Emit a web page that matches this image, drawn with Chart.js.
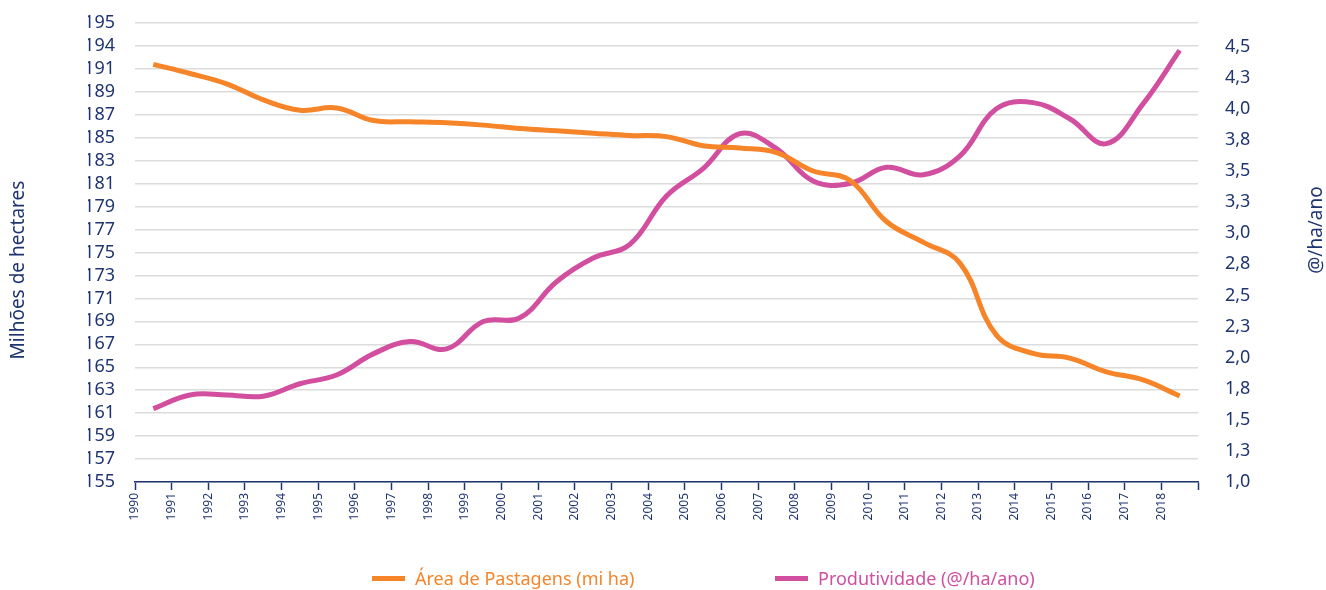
<!DOCTYPE html>
<html lang="pt">
<head>
  <meta charset="UTF-8">
  <title>Área de Pastagens x Produtividade</title>
  <script src="https://cdn.jsdelivr.net/npm/chart.js"></script>
  <style>
    body {
      margin: 0;
      padding: 0;
      background: #fff;
      font-family: "Noto Sans", sans-serif;
    }

    .wrap {
      position: relative;
      width: 1326px;
      height: 590px;
    }

    /* legend below the plot */
    .legend-item {
      position: absolute;
      top: 566px;
      display: flex;
      align-items: center;
      font-size: 18px;
      white-space: nowrap;
    }

    .legend-item i {
      display: inline-block;
      width: 33px;
      height: 5px;
      margin-right: 10px;
    }
  </style>
</head>
<body>
  <div class="wrap">
    <canvas id="chart" width="1326" height="590"></canvas>
    <div class="legend-item" id="leg0" style="left:372px"></div>
    <div class="legend-item" id="leg1" style="left:775px"></div>
  </div>

  <script>
    // data
    const years = [1990, 1991, 1992, 1993, 1994, 1995, 1996, 1997, 1998, 1999,
                   2000, 2001, 2002, 2003, 2004, 2005, 2006, 2007, 2008, 2009,
                   2010, 2011, 2012, 2013, 2014, 2015, 2016, 2017, 2018];

    // Área de Pastagens (milhões de ha) - left axis
    const pastagens = [191.4, 190.6, 189.7, 188.3, 187.4, 187.6, 186.5, 186.4, 186.3, 186.1,
                       185.8, 185.6, 185.4, 185.2, 185.1, 184.3, 184.1, 183.7, 182.1, 181.3,
                       177.7, 175.9, 174.1, 167.8, 166.2, 165.8, 164.6, 163.9, 162.5];

    // Produtividade (@/ha/ano) - right axis
    const produtividade = [1.59, 1.70, 1.70, 1.69, 1.79, 1.86, 2.03, 2.13, 2.07, 2.29,
                           2.32, 2.61, 2.80, 2.91, 3.30, 3.52, 3.80, 3.68, 3.42, 3.40,
                           3.53, 3.47, 3.62, 4.00, 4.05, 3.92, 3.72, 4.04, 4.47];

    const seriesNames = ['Área de Pastagens (mi ha)', 'Produtividade (@/ha/ano)'];
    const colors = ['#F6852A', '#D14F9E'];
    const navy = '#1f3571';

    // tick labels as printed on the original
    const leftTickLabels = ['155', '157', '159', '161', '163', '165', '167', '169', '171', '173', '175',
                            '177', '179', '181', '183', '185', '187', '189', '191', '194', '195'];
    const rightTickValues = [1.0, 1.25, 1.5, 1.75, 2.0, 2.25, 2.5, 2.75, 3.0, 3.25, 3.5, 3.75, 4.0, 4.25, 4.5];
    const rightTickLabels = ['1,0', '1,3', '1,5', '1,8', '2,0', '2,3', '2,5', '2,8', '3,0', '3,3',
                             '3,5', '3,8', '4,0', '4,3', '4,5'];
    const xTickLabels = years.map(String).concat(['']);

    const leftTitle = 'Milhões de hectares';
    const rightTitle = '@/ha/ano';

    // each year sits in the middle of its band, labels sit on the band edges
    const toPoints = (vals) => vals.map((v, i) => ({ x: years[i] + 0.5, y: v }));

    // fixed widths so the plot lands where the original one is
    const fixWidth = (w) => (s) => {
      s.width = w;
      s.paddingTop = 0;
      s.paddingBottom = 0;
    };

    // axis titles, both reading bottom to top
    const axisTitles = {
      id: 'axisTitles',
      afterDraw(chart) {
        const ctx = chart.ctx;
        ctx.save();
        ctx.fillStyle = navy;
        ctx.font = '19px "Noto Sans"';
        ctx.textAlign = 'center';
        ctx.textBaseline = 'middle';

        ctx.save();
        ctx.translate(19, 270);
        ctx.rotate(-Math.PI / 2);
        ctx.fillText(leftTitle, 0, 0);
        ctx.restore();

        ctx.save();
        ctx.translate(1317, 230);
        ctx.rotate(-Math.PI / 2);
        ctx.fillText(rightTitle, 0, 0);
        ctx.restore();

        ctx.restore();
      }
    };

    const ctx = document.getElementById('chart').getContext('2d');
    const chart = new Chart(ctx, {
      type: 'line',
      data: {
        datasets: [{
          label: seriesNames[0],
          data: toPoints(pastagens),
          yAxisID: 'y',
          borderColor: colors[0],
          backgroundColor: colors[0],
          borderWidth: 5,
          pointRadius: 0,
          tension: 0.4,
          fill: false
        }, {
          label: seriesNames[1],
          data: toPoints(produtividade),
          yAxisID: 'y1',
          borderColor: colors[1],
          backgroundColor: colors[1],
          borderWidth: 5,
          pointRadius: 0,
          tension: 0.4,
          fill: false
        }]
      },
      options: {
        responsive: false,
        animation: false,
        layout: {
          padding: { left: 88, right: 0, top: 23, bottom: 48 }
        },
        plugins: {
          legend: { display: false },
          tooltip: { enabled: false }
        },
        scales: {
          x: {
            type: 'linear',
            min: 1990,
            max: 2019,
            afterFit: (s) => { s.height = 60; },
            grid: {
              drawOnChartArea: false,
              drawTicks: true,
              tickLength: 8,
              tickColor: navy,
              tickWidth: 1.5
            },
            border: { display: true, color: navy, width: 1.5 },
            ticks: {
              stepSize: 1,
              autoSkip: false,
              minRotation: 90,
              maxRotation: 90,
              padding: 3,
              color: navy,
              font: { family: 'Noto Sans', size: 12 },
              callback: (v, i) => xTickLabels[i]
            }
          },
          y: {
            position: 'left',
            min: 155,
            max: 195,
            afterFit: fixWidth(47),
            grid: {
              color: '#dcdcdc',
              lineWidth: 1.5,
              drawTicks: false
            },
            border: { display: false },
            ticks: {
              stepSize: 2,
              autoSkip: false,
              padding: 20,
              color: navy,
              font: { family: 'Noto Sans', size: 18 },
              callback: (v, i) => leftTickLabels[i]
            }
          },
          y1: {
            position: 'right',
            min: 1.0,
            max: 4.69,
            afterFit: fixWidth(128),
            afterBuildTicks: (s) => { s.ticks = rightTickValues.map(v => ({ value: v })); },
            grid: { display: false, drawOnChartArea: false },
            border: { display: false },
            ticks: {
              autoSkip: false,
              padding: 19,
              color: navy,
              font: { family: 'Noto Sans', size: 18 },
              callback: (v, i) => rightTickLabels[i]
            }
          }
        }
      },
      plugins: [axisTitles]
    });

    // legend
    seriesNames.forEach((name, i) => {
      const el = document.getElementById('leg' + i);
      el.innerHTML = '<i style="background:' + colors[i] + '"></i><span style="color:' + colors[i] + '">' + name + '</span>';
    });
  </script>
</body>
</html>
